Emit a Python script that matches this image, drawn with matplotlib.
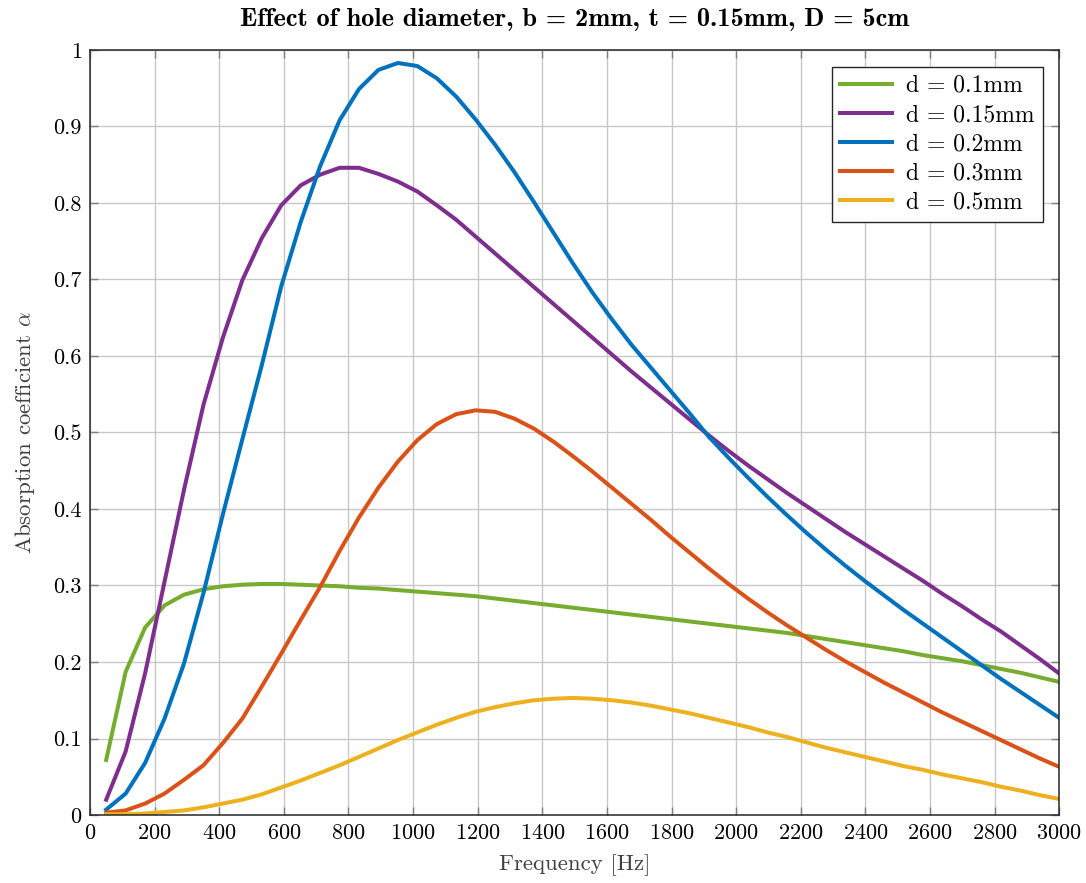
import matplotlib
matplotlib.use('Agg')
import matplotlib.pyplot as plt
import numpy as np

# ============================================================
# Data, 50 samples 50..3000 Hz
# ============================================================
freq = np.linspace(50, 3000, 50)

d_010 = [0.072, 0.187, 0.245, 0.274, 0.288, 0.295, 0.299, 0.301, 0.302, 0.302,
         0.301, 0.300, 0.299, 0.297, 0.296, 0.294, 0.292, 0.290, 0.288, 0.286,
         0.283, 0.280, 0.277, 0.274, 0.271, 0.268, 0.265, 0.262, 0.259, 0.256,
         0.253, 0.250, 0.247, 0.244, 0.241, 0.238, 0.234, 0.230, 0.226, 0.222,
         0.218, 0.214, 0.209, 0.205, 0.201, 0.196, 0.191, 0.186, 0.180, 0.174]

d_015 = [0.020, 0.083, 0.185, 0.305, 0.425, 0.536, 0.624, 0.699, 0.754, 0.797,
         0.823, 0.837, 0.846, 0.846, 0.838, 0.828, 0.815, 0.797, 0.778, 0.756,
         0.734, 0.712, 0.690, 0.668, 0.646, 0.624, 0.602, 0.580, 0.559, 0.538,
         0.517, 0.496, 0.476, 0.457, 0.439, 0.421, 0.404, 0.387, 0.370, 0.354,
         0.338, 0.322, 0.306, 0.289, 0.273, 0.256, 0.240, 0.222, 0.204, 0.185]

d_020 = [0.007, 0.028, 0.068, 0.126, 0.198, 0.290, 0.393, 0.491, 0.588, 0.691,
         0.775, 0.848, 0.908, 0.949, 0.974, 0.983, 0.979, 0.963, 0.939, 0.909,
         0.876, 0.840, 0.801, 0.761, 0.721, 0.683, 0.648, 0.615, 0.585, 0.555,
         0.525, 0.494, 0.467, 0.441, 0.416, 0.392, 0.369, 0.347, 0.326, 0.306,
         0.287, 0.268, 0.250, 0.232, 0.214, 0.196, 0.178, 0.161, 0.144, 0.127]

d_030 = [0.003, 0.006, 0.015, 0.028, 0.046, 0.065, 0.094, 0.126, 0.168, 0.211,
         0.255, 0.298, 0.345, 0.389, 0.428, 0.462, 0.490, 0.511, 0.524, 0.529,
         0.527, 0.518, 0.505, 0.488, 0.469, 0.449, 0.428, 0.407, 0.386, 0.364,
         0.343, 0.322, 0.302, 0.283, 0.265, 0.248, 0.232, 0.216, 0.201, 0.187,
         0.173, 0.160, 0.147, 0.134, 0.122, 0.110, 0.098, 0.086, 0.074, 0.063]

d_050 = [0.001, 0.001, 0.002, 0.004, 0.006, 0.010, 0.015, 0.020, 0.027, 0.036,
         0.045, 0.055, 0.065, 0.076, 0.087, 0.098, 0.108, 0.118, 0.127, 0.135,
         0.141, 0.146, 0.150, 0.152, 0.153, 0.152, 0.150, 0.147, 0.143, 0.138,
         0.133, 0.127, 0.121, 0.115, 0.108, 0.102, 0.095, 0.088, 0.082, 0.076,
         0.070, 0.064, 0.059, 0.053, 0.048, 0.043, 0.037, 0.032, 0.026, 0.021]

labels = ['d = 0.1mm', 'd = 0.15mm', 'd = 0.2mm', 'd = 0.3mm', 'd = 0.5mm']
colors = ['#77AC30', '#7E2F8E', '#0072BD', '#D95319', '#EDB120']

plt.rcParams['font.family'] = 'cmr10'
plt.rcParams['mathtext.fontset'] = 'cm'
plt.rcParams['axes.formatter.use_mathtext'] = True

fig = plt.figure(figsize=(10.86, 8.83), dpi=100)
ax = fig.add_axes([0.0829, 0.077, 0.8924, 0.8664])

for y, lab, c in zip([d_010, d_015, d_020, d_030, d_050], labels, colors):
    ax.plot(freq, y, color=c, lw=2.9, label=lab)

ax.set_xlim(0, 3000)
ax.set_ylim(0, 1)
ax.set_xticks(np.arange(0, 3001, 200))
ax.set_yticks(np.arange(0, 1.01, 0.1))
ax.set_yticklabels(['0'] + [f'{v:.1f}' for v in np.arange(0.1, 0.95, 0.1)] + ['1'])
ax.tick_params(direction='in', length=6, width=1, color='#808080',
               top=True, right=True, labelsize=16, pad=6)
ax.grid(True, color='#c8c8c8', lw=1)
ax.set_axisbelow(True)
for s in ax.spines.values():
    s.set_linewidth(1.1)
    s.set_color('#262626')

ax.set_xlabel('Frequency [Hz]', fontsize=16.5, color='#404040', labelpad=8)
ax.set_ylabel(r'Absorption coefficient $\alpha$', fontsize=16.5, color='#404040', labelpad=12)
ax.set_title('Effect of hole diameter, b = 2mm, t = 0.15mm, D = 5cm',
             fontsize=19, family='cmb10', pad=17)

leg = ax.legend(loc='upper right', fontsize=17, handlelength=2.2, fancybox=False,
                framealpha=1, edgecolor='#262626', borderaxespad=0.7,
                labelspacing=0.3, borderpad=0.35, handletextpad=0.6)
leg.get_frame().set_linewidth(1.0)

fig.savefig('out.png', dpi=100)
